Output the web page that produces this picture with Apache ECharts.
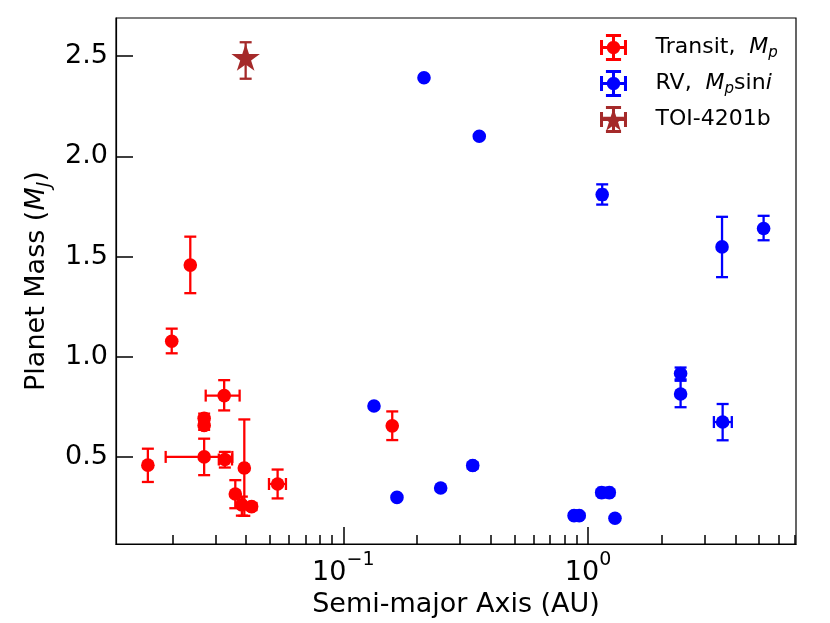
<!DOCTYPE html>
<html><head><meta charset="utf-8">
<script src="https://cdn.jsdelivr.net/npm/echarts@6/dist/echarts.min.js"></script>
<style>html,body{margin:0;padding:0;background:#fff}#c{width:830px;height:623px}</style>
</head><body><div id="c"></div>
<script>
// ---- Transit planets (true mass M_p) ----
const transitA   = [0.0159, 0.0199, 0.0237, 0.0270, 0.0270, 0.0270, 0.0326, 0.0328, 0.0394, 0.0362, 0.0385, 0.0422, 0.0539, 0.1585];
const transitALo = [null,   null,   null,   0.0265, 0.0265, 0.0188, 0.0274, 0.0310, 0.0385, null,   0.0378, 0.0414, 0.0497, null];
const transitAHi = [null,   null,   null,   0.0275, 0.0275, 0.0352, 0.0377, 0.0351, 0.0403, null,   0.0392, 0.0430, 0.0583, null];
const transitM   = [0.459, 1.077, 1.457, 0.693, 0.657, 0.500, 0.806, 0.487, 0.445, 0.315, 0.261, 0.252, 0.365, 0.655];
const transitMLo = [0.375, 1.017, 1.317, 0.670, 0.635, 0.409, 0.732, 0.447, 0.206, 0.244, 0.207, 0.235, 0.293, 0.584];
const transitMHi = [0.541, 1.140, 1.599, 0.716, 0.680, 0.591, 0.883, 0.525, 0.687, 0.384, 0.302, 0.270, 0.437, 0.727];

// ---- RV planets (minimum mass M_p sin i) ----
const rvA   = [0.2137, 0.3595, 1.143, 5.22, 3.53, 2.39, 2.39, 3.55, 0.1335, 0.338, 0.250, 0.1657, 0.877, 0.921, 1.137, 1.222, 1.289];
const rvALo = [null,   null,   1.110, null, null, 2.33, null, 3.27, null,   0.331, null,  null,   0.860, 0.904, 1.105, 1.190, null];
const rvAHi = [null,   null,   1.176, null, null, 2.45, null, 3.87, null,   0.345, null,  null,   0.894, 0.938, 1.169, 1.254, null];
const rvM   = [2.392, 2.100, 1.809, 1.640, 1.548, 0.916, 0.814, 0.674, 0.754, 0.457, 0.345, 0.298, 0.207, 0.207, 0.322, 0.322, 0.194];
const rvMLo = [null,  null,  1.759, 1.581, 1.397, 0.887, 0.748, 0.583, null,  0.442, null,  null,  0.195, 0.195, 0.307, 0.307, null];
const rvMHi = [null,  null,  1.860, 1.703, 1.698, 0.946, 0.880, 0.764, null,  0.472, null,  null,  0.219, 0.219, 0.337, 0.337, null];

// ---- TOI-4201b ----
const toiA   = [0.0399];
const toiALo = [0.0395];
const toiAHi = [0.0403];
const toiM   = [2.492];
const toiMLo = [2.387];
const toiMHi = [2.569];

// ---- axes ----
const xMin = 0.01178, xMax = 7.08;
const yMin = 0.065, yMax = 2.69;
const xMajorTicks = [0.1, 1];
const xMinorTicks = [0.02,0.03,0.04,0.05,0.06,0.07,0.08,0.09,0.2,0.3,0.4,0.5,0.6,0.7,0.8,0.9,2,3,4,5,6,7];
const yTicks = [0.5, 1.0, 1.5, 2.0, 2.5];

const FONT = 'DejaVu Sans';
const LW = 2.3, CAP = 6;

function starPts(cx, cy, R, r) {
  const pts = [];
  for (let k = 0; k < 10; k++) {
    const ang = -Math.PI / 2 + k * Math.PI / 5;
    const rad = k % 2 ? r : R;
    pts.push([cx + rad * Math.cos(ang), cy + rad * Math.sin(ang)]);
  }
  return pts;
}

function errorRenderer(aArr, aLo, aHi, mArr, mLo, mHi, marker) {
  return function (params, api) {
    const i = params.dataIndex;
    const color = api.visual('color');
    const x = Math.log10(aArr[i]), y = mArr[i];
    const c = api.coord([x, y]);
    const kids = [];
    const st = { stroke: color, lineWidth: LW };
    const line = (x1, y1, x2, y2) => kids.push({ type: 'line', shape: { x1, y1, x2, y2 }, style: st });
    if (aLo[i] != null) {
      const p1 = api.coord([Math.log10(aLo[i]), y]);
      const p2 = api.coord([Math.log10(aHi[i]), y]);
      line(p1[0], p1[1], p2[0], p2[1]);
      line(p1[0], p1[1] - CAP, p1[0], p1[1] + CAP);
      line(p2[0], p2[1] - CAP, p2[0], p2[1] + CAP);
    }
    if (mLo[i] != null) {
      const p1 = api.coord([x, mLo[i]]);
      const p2 = api.coord([x, mHi[i]]);
      line(p1[0], p1[1], p2[0], p2[1]);
      line(p1[0] - CAP, p1[1], p1[0] + CAP, p1[1]);
      line(p2[0] - CAP, p2[1], p2[0] + CAP, p2[1]);
    }
    if (marker === 'star') {
      kids.push({ type: 'polygon', shape: { points: starPts(c[0], c[1] + 1, 15, 15 * 0.382) }, style: { fill: color } });
    } else {
      kids.push({ type: 'circle', shape: { cx: c[0], cy: c[1], r: 6.8 }, style: { fill: color } });
    }
    return { type: 'group', children: kids };
  };
}

// legend icon paths (filled shapes, all clockwise)
function rect(x, y, w, h) { return `M${x} ${y}h${w}v${h}h${-w}Z`; }
function circ(cx, cy, r) { return `M${cx - r} ${cy}A${r} ${r} 0 1 1 ${cx + r} ${cy}A${r} ${r} 0 1 1 ${cx - r} ${cy}Z`; }
function starPath(cx, cy, R, r) {
  return starPts(cx, cy, R, r).map((p, k) => (k ? 'L' : 'M') + p[0].toFixed(2) + ' ' + p[1].toFixed(2)).join('') + 'Z';
}
const T = 5.6;
const bars = rect(0, 25 - T / 2, 50, T) + rect(25 - T / 2, 0, T, 50) +
  rect(11, 0, 28, T) + rect(11, 50 - T, 28, T) + rect(0, 11, T, 28) + rect(50 - T, 11, T, 28);
const iconDot = 'path://' + bars + circ(25, 25, 12.5);
const iconStar = 'path://' + bars + starPath(25, 27, 23, 23 * 0.382);

const chart = echarts.init(document.getElementById('c'), null, { renderer: 'canvas' });
const txt = { fontFamily: FONT, color: '#000' };

chart.setOption({
  animation: false,
  backgroundColor: '#fff',
  textStyle: { fontFamily: FONT, color: '#000' },
  grid: { left: 116, right: 34, top: 18, bottom: 75, show: true, borderColor: '#000', borderWidth: 1.2, backgroundColor: 'transparent' },
  legend: {
    orient: 'vertical', left: 600, top: 34, padding: 0, itemGap: 9,
    itemWidth: 74, itemHeight: 27, symbolKeepAspect: true,
    itemStyle: { borderWidth: 0 },
    data: [
      { name: 'Transit', icon: iconDot },
      { name: 'RV', icon: iconDot },
      { name: 'TOI-4201b', icon: iconStar }
    ],
    formatter: function (n) {
      if (n === 'Transit') return '{n|Transit,  }{i|M}{s|p}';
      if (n === 'RV') return '{n|RV,  }{i|M}{s|p}{n|sin}{i|i}';
      return '{n|TOI-4201b}';
    },
    textStyle: {
      ...txt, fontSize: 22,
      rich: {
        n: { ...txt, fontSize: 22, lineHeight: 27, verticalAlign: 'middle' },
        i: { ...txt, fontSize: 22, fontStyle: 'italic', lineHeight: 27, verticalAlign: 'middle' },
        s: { ...txt, fontSize: 15, fontStyle: 'italic', lineHeight: 16, verticalAlign: 'bottom' }
      }
    }
  },
  xAxis: [{
    type: 'value', min: Math.log10(xMin), max: Math.log10(xMax), position: 'bottom',
    name: 'Semi-major Axis (AU)', nameLocation: 'middle', nameGap: 44,
    nameTextStyle: { ...txt, fontSize: 27 },
    axisLine: { show: true, onZero: false, lineStyle: { color: '#000', width: 1.2 } },
    axisTick: { show: true, inside: true, length: 17, lineStyle: { color: '#000', width: 1.5 }, customValues: xMajorTicks.map(Math.log10) },
    axisLabel: {
      show: true, margin: 6, customValues: xMajorTicks.map(Math.log10),
      formatter: function (v) { const e = Math.round(v); return '{b|10}{p|' + (e < 0 ? '\u2212' + (-e) : e) + '}'; },
      rich: {
        b: { ...txt, fontSize: 27, lineHeight: 36, verticalAlign: 'bottom' },
        p: { ...txt, fontSize: 19, lineHeight: 20, verticalAlign: 'top' }
      }
    },
    splitLine: { show: false }
  }, {
    type: 'value', min: Math.log10(xMin), max: Math.log10(xMax), position: 'bottom', gridIndex: 0,
    axisLine: { show: false },
    axisTick: { show: true, inside: true, length: 9, lineStyle: { color: '#000', width: 1.5 }, customValues: xMinorTicks.map(Math.log10) },
    axisLabel: { show: false },
    splitLine: { show: false }
  }],
  yAxis: {
    type: 'value', min: yMin, max: yMax,
    name: '{n|Planet Mass (}{i|M}{s|J}{n|)}', nameLocation: 'middle', nameGap: 58, nameRotate: 90,
    nameTextStyle: {
      ...txt, fontSize: 27,
      rich: {
        n: { ...txt, fontSize: 27, lineHeight: 34, verticalAlign: 'middle' },
        i: { ...txt, fontSize: 27, fontStyle: 'italic', lineHeight: 34, verticalAlign: 'middle' },
        s: { ...txt, fontSize: 19, fontStyle: 'italic', lineHeight: 20, verticalAlign: 'bottom' }
      }
    },
    axisLine: { show: true, onZero: false, lineStyle: { color: '#000', width: 1.2 } },
    axisTick: { show: true, inside: true, length: 17, lineStyle: { color: '#000', width: 1.5 }, customValues: yTicks },
    axisLabel: { show: true, margin: 8, customValues: yTicks, formatter: v => v.toFixed(1), ...txt, fontSize: 27 },
    splitLine: { show: false }
  },
  series: [{
    name: 'Transit', type: 'custom', xAxisIndex: 0, clip: true,
    itemStyle: { color: '#ff0000' },
    encode: { x: 0, y: 1 },
    data: transitA.map((a, i) => [Math.log10(a), transitM[i]]),
    renderItem: errorRenderer(transitA, transitALo, transitAHi, transitM, transitMLo, transitMHi, 'dot')
  }, {
    name: 'RV', type: 'custom', xAxisIndex: 0, clip: true,
    itemStyle: { color: '#0000ff' },
    encode: { x: 0, y: 1 },
    data: rvA.map((a, i) => [Math.log10(a), rvM[i]]),
    renderItem: errorRenderer(rvA, rvALo, rvAHi, rvM, rvMLo, rvMHi, 'dot')
  }, {
    name: 'TOI-4201b', type: 'custom', xAxisIndex: 0, clip: true,
    itemStyle: { color: '#a52a2a' },
    encode: { x: 0, y: 1 },
    data: toiA.map((a, i) => [Math.log10(a), toiM[i]]),
    renderItem: errorRenderer(toiA, toiALo, toiAHi, toiM, toiMLo, toiMHi, 'star')
  }]
});
</script>
</body></html>
